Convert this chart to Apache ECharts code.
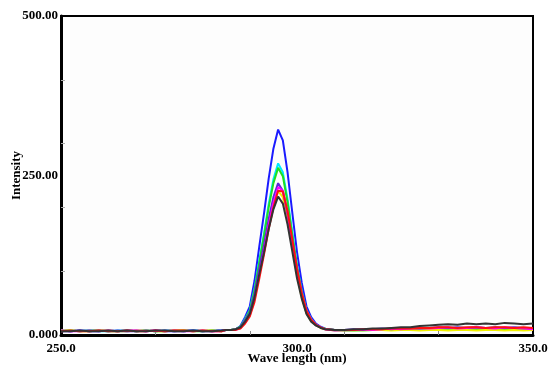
<!DOCTYPE html>
<html>
<head>
<meta charset="utf-8">
<script src="https://cdn.jsdelivr.net/npm/echarts@6/dist/echarts.min.js"></script>
<style>html,body{margin:0;padding:0;background:#fff;}#c{width:550px;height:366px;}</style>
</head>
<body>
<div id="c"></div>
<script>
// wavelengths (nm)
const wavelengths = [250,252,254,256,258,260,262,264,266,268,270,272,274,276,278,280,282,284,
  285,286,287,288,289,290,291,292,293,294,295,296,297,298,299,300,301,302,303,304,305,306,
  308,310,312,314,316,318,320,322,324,326,328,330,332,334,336,338,340,342,344,346,348,350];

const blue = [7,6,7,6,6,7,6,6,7,6,7,6,6,7,7,6,7,7,
  8,8,9,14,28,45,85,138,190,245,292,322,305,255,192,130,82,45,28,18,13,10,
  8,7,8,8,9,8,9,10,9,10,11,10,11,10,11,10,11,10,11,10,10,9];
const cyan = [7,7,6,8,6,6,7,7,6,7,6,7,7,6,7,7,6,7,
  8,8,9,13,25,39,72,116,159,205,244,269,255,213,161,109,69,39,25,16,12,10,
  7,8,8,7,8,9,8,9,10,9,9,10,9,10,9,10,9,10,9,10,9,9];
const green = [6,7,6,7,7,6,6,7,6,7,6,6,7,7,6,6,7,6,
  8,8,9,13,24,38,70,113,155,200,238,262,249,208,157,107,68,38,24,16,12,10,
  8,8,7,8,9,8,9,9,8,10,9,9,10,9,10,9,10,9,9,10,9,8];
const purple = [6,6,7,6,7,6,7,6,6,7,6,7,6,6,7,6,6,7,
  8,8,9,12,23,35,64,103,141,182,216,238,226,189,143,97,62,35,23,15,12,9,
  8,8,9,8,9,10,9,10,11,10,11,12,11,12,11,12,11,12,11,12,11,10];
const magenta = [7,6,6,7,6,7,6,7,7,6,7,6,7,6,6,7,6,6,
  8,8,8,11,19,31,56,94,131,172,207,232,226,192,147,102,65,38,24,16,12,9,
  7,8,8,9,8,9,10,9,10,11,10,11,12,10,11,12,11,10,12,11,10,9];
const red = [6,7,6,6,7,6,6,7,6,6,7,6,7,7,6,7,6,6,
  8,8,8,10,18,29,52,88,126,166,200,226,225,194,150,104,66,38,24,16,12,9,
  8,8,8,9,9,9,10,10,10,11,11,12,12,11,12,12,11,12,12,11,12,11];
const yellow = [7,7,6,6,7,7,6,6,7,7,6,6,7,7,6,7,7,6,
  8,8,9,11,20,32,58,95,131,170,203,226,216,182,138,94,59,34,22,15,11,9,
  7,7,8,7,8,8,7,8,8,7,8,8,7,8,8,7,8,8,7,8,7,8];
const black = [6,6,7,6,6,7,6,7,6,6,7,7,6,6,7,6,6,7,
  8,8,9,12,21,33,59,95,129,166,197,217,206,173,131,89,57,33,21,15,11,9,
  8,8,9,9,10,10,11,12,12,14,15,16,17,16,18,17,18,17,19,18,17,18];

const yLabelValues = [0, 250, 500];
const yLabelTexts = {0: '0.000', 250: '250.00', 500: '500.00'};
const yTickValues = [100, 200, 300, 400];
const xLabelValues = [250, 300, 350];
const xTickValues = [270, 290, 310, 330];

const seriesDefs = [
  ['blue', blue, '#1a1aff'],
  ['cyan', cyan, '#00e8ff'],
  ['green', green, '#1ee01e'],
  ['yellow', yellow, '#f0f000'],
  ['purple', purple, '#5a2ad8'],
  ['magenta', magenta, '#ff00ff'],
  ['red', red, '#ff1010'],
  ['black', black, '#333333']
];

const font = 'Liberation Serif';
const chart = echarts.init(document.getElementById('c'));
chart.setOption({
  animation: false,
  backgroundColor: '#ffffff',
  grid: {left: 61, right: 17, top: 16, bottom: 31, show: true, borderColor: '#000', borderWidth: 2,
    backgroundColor: '#fdfdfd', containLabel: false, outerBoundsMode: 'none'},
  xAxis: {
    type: 'value', min: 250, max: 350,
    name: 'Wave length (nm)', nameLocation: 'middle', nameGap: 17, nameMoveOverlap: false,
    nameTextStyle: {fontFamily: font, fontWeight: 'bold', fontSize: 13, color: '#000'},
    axisLine: {show: true, lineStyle: {color: '#000', width: 3}},
    axisTick: {show: true, inside: true, length: 4, customValues: xTickValues, lineStyle: {color: '#888', width: 1}},
    axisLabel: {customValues: xLabelValues, margin: 7, fontFamily: font, fontWeight: 'bold', fontSize: 13, color: '#000',
      formatter: v => v.toFixed(1)},
    splitLine: {show: false}
  },
  yAxis: {
    type: 'value', min: 0, max: 500,
    name: 'Intensity', nameLocation: 'middle', nameGap: 38, nameRotate: 90, nameMoveOverlap: false,
    nameTextStyle: {fontFamily: font, fontWeight: 'bold', fontSize: 13, color: '#000'},
    axisLine: {show: true, lineStyle: {color: '#000', width: 3}},
    axisTick: {show: true, inside: true, length: 4, customValues: yTickValues, lineStyle: {color: '#aaa', width: 1}},
    axisLabel: {customValues: yLabelValues, margin: 3, fontFamily: font, fontWeight: 'bold', fontSize: 13, color: '#000',
      formatter: v => yLabelTexts[v]},
    splitLine: {show: false}
  },
  series: seriesDefs.map(([name, vals, color]) => ({
    name, type: 'line', showSymbol: false, smooth: false,
    data: wavelengths.map((w, i) => [w, vals[i]]),
    lineStyle: {color, width: 2}, itemStyle: {color}
  }))
});
</script>
</body>
</html>
